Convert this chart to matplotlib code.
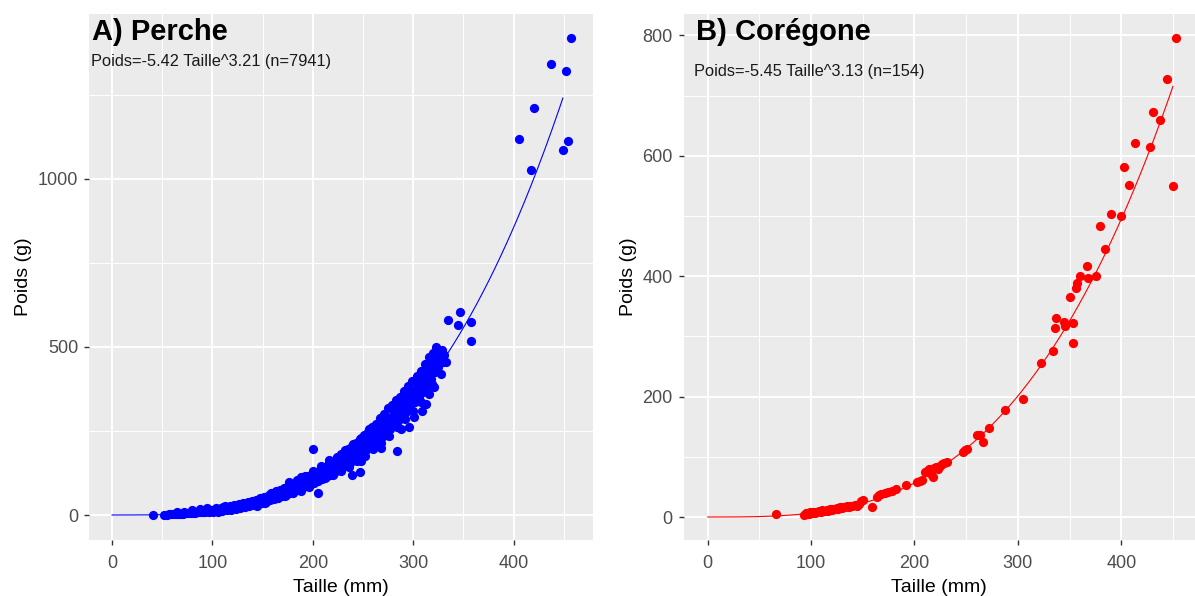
#!/usr/bin/env python3

"""
Relation taille-poids, perche et corégone (style ggplot).
"""

import numpy as np
import matplotlib as mpl
mpl.use("Agg")
import matplotlib.pyplot as plt
from matplotlib.ticker import MultipleLocator


# --- Perche : points (taille mm, poids g) ---
perche_taille = [
    41, 52, 55, 57, 59, 61, 63, 65, 65, 67, 69, 71, 72, 73, 75, 77, 79, 80,
    81, 83, 85, 87, 88, 89, 91, 93, 95, 95, 97, 99,
    101, 102, 103, 105, 106, 108, 109, 111, 112, 114, 115, 117, 118, 120,
    121, 123, 124, 126, 127, 129, 130, 132, 133, 135, 136, 138, 139,
    141, 142, 143, 145, 146, 147, 149, 150, 151, 153, 154, 155, 157, 158,
    159, 158.5,
    161, 162, 163, 165, 166, 167, 169, 170, 171, 173, 174, 175, 176, 177,
    178, 179,
    181, 182, 183, 185, 186, 187, 188, 189, 190, 191, 193, 194, 195, 197,
    198, 199,
    200.5, 201, 202, 203, 205, 205, 206, 207, 209, 210, 211, 213, 214, 215,
    216, 217, 218, 219,
    221, 222, 223, 225, 226, 227, 228, 229, 230, 231, 233, 234, 235, 237,
    238, 239, 238.7,
    241, 242, 243, 245, 246, 247, 247, 248, 249, 250, 251, 253, 254, 255,
    257, 258, 259,
    261, 262, 263, 265, 266, 267, 268, 269, 270, 271, 273, 274, 275, 277,
    278, 279,
    281, 282, 283, 283.5, 285, 286, 287, 288, 289, 290, 291, 293, 294, 295,
    296, 297, 298, 299,
    301, 302, 303, 304, 306, 307, 308, 309, 310, 311, 312, 313, 314, 315,
    316, 318, 319, 320, 321, 322, 323, 324, 325, 327, 329, 330, 333,
    335, 345, 347, 357, 357.6,
    405.7, 417.6, 420.6, 437, 449.5, 452, 453.9, 456.8,
    # points intermédiaires du nuage dense
    100, 104, 107, 110, 113, 116, 119, 122, 125, 128, 131, 134, 137, 140,
    144, 148, 152, 156, 160, 144, 152, 156,
    164, 168, 172, 176, 180, 184, 188, 192, 196, 200, 164, 172, 180, 188,
    196, 184, 192, 200,
    204, 208, 212, 216, 220, 224, 228, 232, 236, 240, 204, 212, 220, 228,
    236, 208, 216, 224, 232, 240,
    244, 248, 252, 256, 260, 264, 268, 272, 276, 280, 244, 252, 260, 268,
    276, 248, 256, 264, 272, 280,
    284, 288, 292, 296, 300, 304, 308, 312, 316, 320, 284, 292, 300, 308,
    316, 288, 296, 304, 312, 318, 326, 331, 328, 319,
]
perche_poids = [
    0, 1, 1, 2, 2, 2, 3, 3, 8, 4, 3, 4, 10, 5, 5, 6, 6, 14,
    7, 6, 8, 8, 17, 9, 9, 10, 11, 20, 10, 12,
    8, 14, 20, 10, 16, 22, 12, 18, 26, 14, 21, 28, 16, 24,
    30, 19, 27, 33, 22, 29, 36, 25, 31, 38, 27, 34, 42,
    30, 38, 46, 33, 41, 50, 36, 45, 55, 40, 49, 58, 44, 53,
    62, 66,
    48, 58, 70, 52, 63, 75, 57, 68, 80, 61, 73, 86, 99, 66,
    78, 90,
    70, 83, 96, 75, 88, 102, 112, 80, 94, 108, 85, 100, 115, 90,
    106, 122,
    196, 96, 112, 128, 65, 102, 118, 135, 108, 125, 142, 114, 132, 150,
    154, 120, 140, 158,
    126, 147, 166, 133, 155, 175, 183, 140, 163, 185, 148, 171, 195, 156,
    180, 205, 119,
    165, 190, 215, 174, 200, 226, 129, 160, 183, 210, 238, 193, 220, 248,
    203, 230, 262,
    212, 242, 272, 222, 254, 288, 200, 233, 266, 300, 245, 279, 317, 257,
    292, 328,
    268, 305, 342, 191, 280, 318, 352, 255, 294, 332, 370, 306, 346, 385,
    262, 320, 360, 400,
    292, 335, 375, 415, 350, 392, 430, 310, 365, 410, 450, 330, 385, 430,
    470, 405, 445, 482, 380, 425, 501, 465, 440, 478, 490, 455, 454,
    580, 566, 603, 517, 575,
    1118, 1027, 1210, 1342, 1085, 1322, 1112, 1419,
    # points intermédiaires du nuage dense
    15, 18, 12, 24, 17, 25, 20, 25, 30, 26, 31, 34, 30, 35,
    40, 43, 48, 50, 55, 27, 36, 60,
    62, 66, 72, 78, 82, 88, 95, 98, 104, 110, 50, 58, 64, 72,
    82, 105, 115, 130,
    118, 125, 133, 138, 145, 152, 160, 168, 176, 185, 100, 110, 118, 130,
    142, 145, 165, 172, 192, 210,
    195, 205, 212, 220, 230, 240, 250, 262, 275, 285, 160, 175, 195, 215,
    235, 230, 255, 265, 290, 315,
    300, 312, 325, 340, 355, 365, 380, 395, 410, 430, 262, 285, 310, 335,
    360, 340, 375, 395, 430, 455, 460, 475, 420, 390,
]

# --- Corégone ---
coregone_taille = [
    66.5, 93, 95, 96, 97, 98, 99, 100, 101, 102, 104, 105, 106, 108, 110,
    111, 113, 115, 116, 118, 120, 121, 123, 125, 126, 128, 130, 131, 133,
    135, 137, 138, 140, 142, 144, 146, 148, 150,
    158.5, 164, 166, 168, 171, 174, 178, 182, 192, 202, 205, 207,
    210, 212, 214, 216, 218, 219, 221, 223, 225, 227, 229, 231,
    247, 249, 251, 260, 263, 266, 272, 288, 305, 322, 334, 336, 337,
    345, 346, 353, 353, 350, 356, 357, 360, 367, 368, 376, 379, 384, 390,
    400, 403, 407, 413, 428, 431, 437, 444, 450, 453,
]
coregone_poids = [
    5, 4, 6, 5, 7, 5, 8, 6, 7, 9, 6, 8, 9, 10, 8,
    11, 10, 12, 10, 13, 12, 14, 13, 15, 13, 16, 15, 17, 16,
    18, 17, 19, 18, 20, 19, 22, 26, 28,
    17, 33, 36, 39, 40, 42, 44, 46, 53, 58, 59, 61,
    74, 77, 79, 72, 67, 81, 83, 79, 85, 88, 90, 92,
    108, 111, 113, 137, 136, 125, 148, 178, 196, 256, 276, 314, 330,
    324, 317, 322, 289, 365, 380, 388, 400, 417, 397, 400, 483, 445, 503,
    500, 582, 551, 622, 614, 672, 659, 727, 549, 795,
]

# coefficients des relations log10(Poids) = a + b log10(Taille)
perche_fit = (-5.42, 3.21, 7941, 449)
coregone_fit = (-5.45, 3.13, 154, 450)

W, H = 1195, 596
BG = "#EBEBEB"


def panel(fig, rect, taille, poids, fit, color, title, xlim, ylim, ymajor,
          title_xy, note_xy, ylab_x):
    """Un panneau façon theme_gray de ggplot."""

    a, b, n, lmax = fit
    ax = fig.add_axes(rect)
    ax.set_facecolor(BG)
    for sp in ax.spines.values():
        sp.set_visible(False)

    ax.set_xlim(xlim)
    ax.set_ylim(ylim)
    ax.xaxis.set_major_locator(MultipleLocator(100))
    ax.xaxis.set_minor_locator(MultipleLocator(50))
    ax.yaxis.set_major_locator(MultipleLocator(ymajor))
    ax.yaxis.set_minor_locator(MultipleLocator(ymajor / 2))
    ax.grid(which="major", color="white", linewidth=1.4)
    ax.grid(which="minor", color="white", linewidth=0.7)
    ax.set_axisbelow(True)

    ax.tick_params(which="minor", length=0)
    ax.tick_params(which="major", color="#333333", length=3.5, width=1.0,
                   labelsize=13, labelcolor="#4D4D4D")
    ax.tick_params(axis="x", pad=7.5)
    ax.tick_params(axis="y", pad=4.3)

    # courbe ajustée
    lt = np.linspace(0, lmax, 300)
    ax.plot(lt, 10 ** (a + b * np.log10(np.maximum(lt, 1e-9))),
            color=color, linewidth=0.8, zorder=2)
    ax.scatter(taille, poids, s=44, color=color, linewidths=0, zorder=3)

    ax.text(title_xy[0], title_xy[1], title, transform=ax.transAxes,
            fontsize=21, fontweight="bold", color="black", va="baseline")
    ax.text(note_xy[0], note_xy[1],
            f"Poids={a:.2f} Taille^{b:.2f} (n={n})",
            transform=ax.transAxes, fontsize=11.8, color="#1A1A1A",
            va="baseline")

    ax.set_xlabel("Taille (mm)", fontsize=14, va="center")
    ax.xaxis.set_label_coords(0.5, -0.0894)
    ax.set_ylabel("Poids (g)", fontsize=14, va="center")
    ax.yaxis.set_label_coords(ylab_x, 0.5)
    return ax


def main() -> None:
    plt.rcParams["font.family"] = ["Liberation Sans", "DejaVu Sans"]

    fig = plt.figure(figsize=(W / 100, H / 100), dpi=100)

    top, bottom = 14, 540
    ry = (H - bottom) / H
    rh = (bottom - top) / H

    left_rect = [89.2 / W, ry, (593 - 89.2) / W, rh]
    right_rect = [683.5 / W, ry, (W - 683.5) / W, rh]

    panel(fig, left_rect, perche_taille, perche_poids, perche_fit, "blue",
          "A) Perche", (-22.8, 479), (-74.4, 1491), 500,
          (0.0056, 0.9515), (0.004, 0.9017), -0.1314)
    panel(fig, right_rect, coregone_taille, coregone_poids, coregone_fit,
          "red", "B) Corégone", (-23.4, 471.3), (-38.2, 835.5), 200,
          (0.025, 0.9506), (0.0211, 0.8821), -0.1085)

    fig.savefig("out.png", dpi=100, facecolor="white")


if __name__ == "__main__":
    main()
